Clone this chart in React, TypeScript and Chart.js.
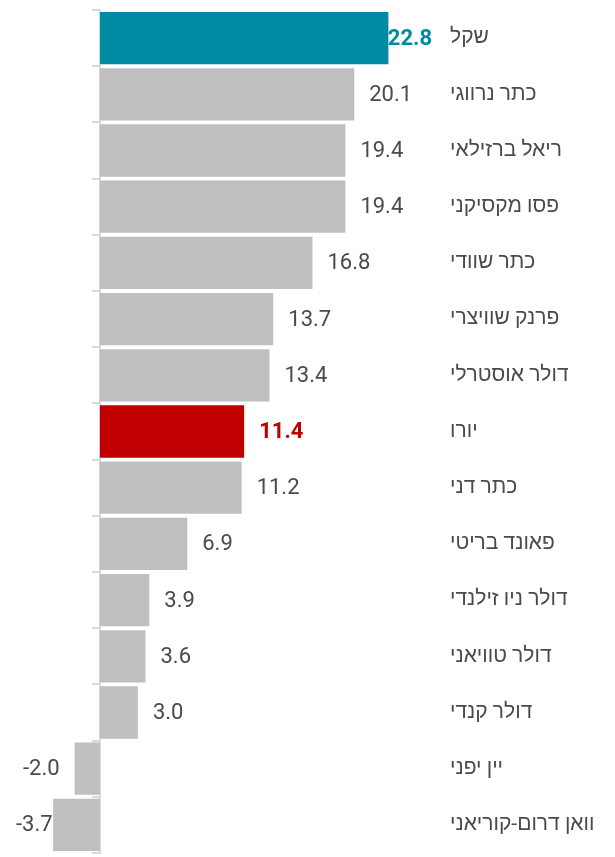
import React, { useEffect, useRef } from "react";
import { Chart, registerables } from "chart.js";

Chart.register(...registerables);

const categories: string[] = [
  "שקל",
  "כתר נרווגי",
  "ריאל ברזילאי",
  "פסו מקסיקני",
  "כתר שוודי",
  "פרנק שוויצרי",
  "דולר אוסטרלי",
  "יורו",
  "כתר דני",
  "פאונד בריטי",
  "דולר ניו זילנדי",
  "דולר טוויאני",
  "דולר קנדי",
  "יין יפני",
  "וואן דרום-קוריאני",
];

const values: number[] = [22.8, 20.1, 19.4, 19.4, 16.8, 13.7, 13.4, 11.4, 11.2, 6.9, 3.9, 3.6, 3.0, -2.0, -3.7];

const highlightShekel = "שקל";
const highlightEuro = "יורו";

const COLOR_GRAY = "#bfbfbf";
const COLOR_TEAL = "#008ba3";
const COLOR_RED = "#c00000";
const TEXT_COLOR = "#4a4a4a";
const FONT_FAMILY = "Roboto, 'Liberation Sans', 'DejaVu Sans', sans-serif";

function barColor(label: string): string {
  if (label === highlightShekel) return COLOR_TEAL;
  if (label === highlightEuro) return COLOR_RED;
  return COLOR_GRAY;
}

const valueLabelPlugin = {
  id: "valueLabels",
  afterDatasetsDraw(chart: any) {
    const ctx = chart.ctx;
    const meta = chart.getDatasetMeta(0);
    const ds = chart.data.datasets[0];
    ctx.save();
    ctx.textBaseline = "middle";
    meta.data.forEach((bar: any, i: number) => {
      const v = ds.data[i] as number;
      const label = chart.data.labels[i] as string;
      const hl = label === highlightShekel || label === highlightEuro;
      ctx.font = `${hl ? "bold " : ""}22px ${FONT_FAMILY}`;
      ctx.fillStyle = hl ? barColor(label) : TEXT_COLOR;
      const text = v.toFixed(1);
      const w = ctx.measureText(text).width;
      const gap = 15;
      let left: number;
      if (v >= 0) {
        left = bar.x + gap;
        if (left + w > 432) left = 432 - w;
      } else {
        left = bar.x - gap - w;
        if (left < 16) left = 16;
      }
      ctx.textAlign = "left";
      ctx.fillText(text, left, bar.y + 1);
    });
    ctx.restore();
  },
};

export default function App() {
  const ref = useRef<HTMLCanvasElement | null>(null);
  useEffect(() => {
    if (!ref.current) return;
    const chart = new Chart(ref.current, {
      type: "bar",
      data: {
        labels: categories,
        datasets: [
          {
            data: values,
            backgroundColor: categories.map(barColor),
            borderWidth: 0,
            categoryPercentage: 0.93,
            barPercentage: 1,
            yAxisID: "y",
          },
        ],
      },
      options: {
        indexAxis: "y",
        animation: false,
        responsive: false,
        maintainAspectRatio: false,
        layout: { padding: { top: 10, bottom: 4, left: 0, right: 0 } },
        plugins: {
          legend: { display: false },
          tooltip: { enabled: false },
        },
        scales: {
          x: {
            display: false,
            min: -7.9,
            max: 26.8,
          },
          y: {
            type: "category",
            position: { x: 0 } as any,
            offset: true,
            grid: {
              display: true,
              drawOnChartArea: false,
              drawTicks: true,
              tickLength: 7,
              color: "#d9d9d9",
              lineWidth: 2,
              offset: true,
            },
            border: { display: true, color: "#d9d9d9", width: 2 },
            ticks: { display: false, autoSkip: false },
            afterFit: (scale: any) => {
              scale.width = 0;
              scale.paddingTop = 0;
              scale.paddingBottom = 0;
            },
          },
          yLabels: {
            type: "category",
            position: "right",
            offset: true,
            grid: { display: false },
            border: { display: false },
            ticks: {
              autoSkip: false,
              padding: 3,
              color: TEXT_COLOR,
              font: { family: FONT_FAMILY, size: 21 },
            },
            afterFit: (scale: any) => {
              scale.width = 615 - 439;
              scale.paddingTop = 0;
              scale.paddingBottom = 0;
            },
          },
        },
      },
      plugins: [valueLabelPlugin],
    });
    return () => chart.destroy();
  }, []);
  return (
    <canvas
      ref={ref}
      width={615}
      height={857}
      style={{ position: "fixed", left: 0, top: 0, width: 615, height: 857 }}
    />
  );
}
